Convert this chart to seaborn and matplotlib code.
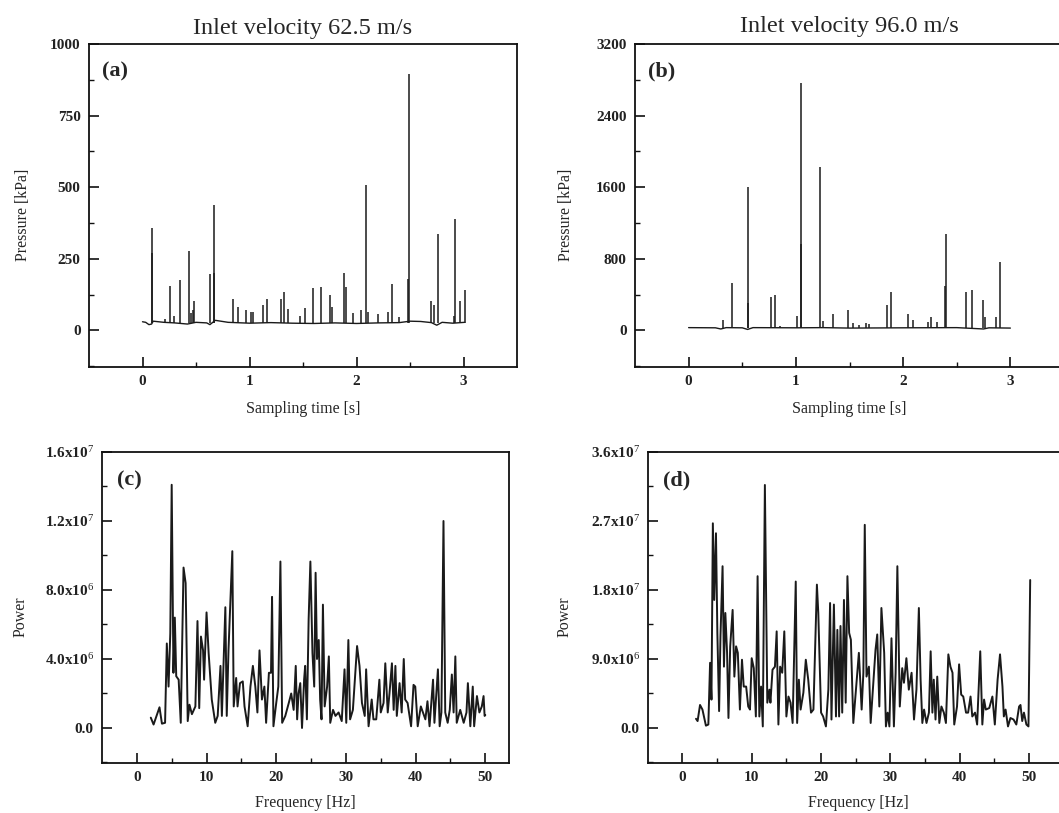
import numpy as np
import pandas as pd
import matplotlib
matplotlib.use("Agg")
import matplotlib.pyplot as plt
import seaborn as sns
from matplotlib.ticker import MultipleLocator, FixedLocator

# ---------------- data ----------------
titles = ["Inlet velocity 62.5 m/s", "Inlet velocity 96.0 m/s"]
panel_tags = ["(a)", "(b)", "(c)", "(d)"]

# (a) pressure trace, 62.5 m/s: baseline vertices and spikes
a_base_t = [0.0, 0.03, 0.06, 0.085, 0.10, 0.20, 0.30, 0.42, 0.50, 0.60, 0.63, 0.68, 0.80,
            1.00, 1.20, 1.40, 1.60, 1.80, 2.00, 2.20, 2.40, 2.50, 2.60, 2.70, 2.75, 2.80, 2.90, 3.01]
a_base_kpa = [30, 28, 20, 22, 32, 28, 26, 22, 28, 26, 20, 35, 28,
              25, 27, 25, 24, 26, 24, 26, 27, 32, 31, 27, 18, 28, 25, 28]
a_spike_t = [0.087, 0.092, 0.21, 0.26, 0.29, 0.35, 0.43, 0.455, 0.47, 0.485, 0.635, 0.665, 0.67,
             0.845, 0.89, 0.97, 1.01, 1.03, 1.125, 1.165, 1.29, 1.32, 1.36, 1.47, 1.52,
             1.59, 1.67, 1.75, 1.77, 1.885, 1.90, 1.97, 2.04, 2.09, 2.11, 2.20, 2.295,
             2.33, 2.40, 2.485, 2.49, 2.70, 2.725, 2.765, 2.91, 2.925, 2.97, 3.01]
a_spike_kpa = [359, 270, 40, 155, 50, 177, 278, 60, 70, 101, 196, 436, 200,
               108, 82, 72, 63, 63, 90, 108, 111, 133, 75, 51, 79,
               147, 152, 124, 80, 200, 150, 60, 70, 506, 65, 56, 63,
               163, 45, 180, 896, 103, 88, 338, 50, 389, 103, 140]

# (b) pressure trace, 96.0 m/s
b_base_t = [0.0, 0.25, 0.30, 0.35, 0.50, 0.55, 0.60, 1.00, 1.25, 1.50, 2.00, 2.50, 2.75, 2.80, 3.00]
b_base_kpa = [30, 28, 15, 30, 28, 10, 30, 28, 30, 25, 28, 30, 15, 28, 25]
b_spike_t = [0.32, 0.40, 0.55, 0.555, 0.77, 0.81, 0.85, 1.01, 1.045, 1.047, 1.225, 1.25,
             1.35, 1.49, 1.53, 1.59, 1.65, 1.68, 1.845, 1.885, 2.05, 2.09, 2.23, 2.26,
             2.32, 2.395, 2.40, 2.59, 2.645, 2.745, 2.76, 2.87, 2.90]
b_spike_kpa = [120, 530, 1600, 300, 374, 392, 50, 160, 960, 2766, 1820, 100,
               180, 232, 80, 60, 80, 70, 288, 426, 187, 110, 90, 150,
               90, 500, 1073, 426, 449, 336, 150, 150, 763]

# (c) power spectrum, 62.5 m/s (Hz, 1e6 units)
c_freq = [2.0, 2.4, 2.9, 3.25, 3.6, 4.05, 4.3, 4.55, 4.8, 5.0, 5.25, 5.45, 5.65, 6.0, 6.3,
          6.7, 7.0, 7.3, 7.55, 7.9, 8.4, 8.7, 8.95, 9.2, 9.5, 9.65, 10.0, 10.3, 10.75, 11.25,
          11.6, 12.0, 12.2, 12.7, 12.9, 13.15, 13.7, 13.9, 14.25, 14.45, 14.8, 15.2, 15.45,
          15.9, 16.3, 16.65, 17.0, 17.3, 17.6, 17.95, 18.3, 18.55, 18.95, 19.25, 19.4, 19.6,
          20.0, 20.3, 20.6, 20.85, 21.3, 21.8, 22.15, 22.5, 22.8, 23.0, 23.2, 23.45, 23.7,
          24.0, 24.15, 24.4, 24.65, 24.9, 25.2, 25.45, 25.65, 25.85, 26.1, 26.3, 26.5, 26.7,
          26.95, 27.3, 27.55, 27.75, 28.15, 28.5, 28.95, 29.4, 29.8, 30.05, 30.35, 30.6, 31.0,
          31.6, 31.95, 32.3, 32.7, 32.9, 33.25, 33.7, 33.95, 34.35, 34.8, 35.0, 35.4, 35.65,
          36.0, 36.25, 36.6, 36.85, 37.1, 37.3, 37.7, 38.0, 38.3, 38.5, 38.85, 39.35, 39.7,
          39.95, 40.3, 40.75, 41.05, 41.4, 41.7, 42.0, 42.5, 42.7, 43.2, 43.45, 43.7, 44.0,
          44.25, 44.6, 44.9, 45.2, 45.45, 45.7, 45.9, 46.4, 46.9, 47.3, 47.5, 47.85, 48.2,
          48.4, 48.8, 49.15, 49.5, 49.75, 49.9, 50.0]
c_power = [0.6, 0.2, 0.8, 1.2, 0.25, 0.3, 4.9, 2.4, 5.5, 14.1, 3.2, 6.4, 3.0, 2.8, 0.3,
           9.3, 8.4, 0.4, 1.35, 0.8, 1.25, 6.2, 1.15, 5.3, 4.5, 2.8, 6.7, 4.35, 1.65, 0.3,
           0.7, 3.6, 0.7, 7.0, 0.7, 4.5, 10.25, 1.25, 2.9, 1.25, 2.6, 2.7, 1.25,
           0.1, 2.4, 3.6, 2.4, 0.9, 4.5, 1.65, 2.4, 0.3, 3.2, 3.2, 7.6, 0.1,
           1.45, 2.4, 9.65, 0.3, 0.7, 1.45, 2.0, 1.05, 3.6, 0.5, 2.0, 2.6, 0.0,
           2.8, 3.6, 0.5, 6.3, 9.65, 4.35, 2.4, 9.0, 4.0, 5.1, 1.65, 0.5, 7.15,
           1.25, 2.4, 4.15, 0.3, 1.05, 0.7, 0.9, 0.4, 3.4, 0.3, 5.1, 0.5, 1.05,
           4.75, 3.6, 1.45, 0.7, 3.4, 0.1, 1.65, 0.5, 0.5, 2.8, 0.9, 1.45, 3.75,
           0.9, 2.0, 3.75, 1.05, 3.6, 0.7, 2.6, 0.9, 4.0, 1.65, 1.45, 0.1, 2.5,
           2.4, 0.1, 1.25, 0.9, 0.5, 1.55, 0.1, 2.8, 0.3, 3.4, 0.1, 0.9, 12.0,
           0.9, 0.3, 1.05, 3.1, 0.9, 4.15, 0.3, 1.05, 0.3, 0.9, 2.6, 0.1, 2.4,
           0.1, 1.85, 0.9, 1.25, 1.85, 0.7, 0.75]

# (d) power spectrum, 96.0 m/s (Hz, 1e6 units)
d_freq = [1.97, 2.2, 2.55, 2.9, 3.4, 3.75, 4.0, 4.2, 4.4, 4.6, 4.85, 5.05, 5.3, 5.5, 5.8,
          6.0, 6.2, 6.45, 6.65, 6.9, 7.25, 7.5, 7.75, 8.0, 8.3, 8.6, 8.85, 9.2, 9.5, 9.75,
          10.0, 10.3, 10.6, 10.85, 11.1, 11.35, 11.6, 11.9, 12.25, 12.55, 12.7, 13.0, 13.35,
          13.6, 13.85, 14.1, 14.4, 14.7, 15.0, 15.3, 15.6, 15.9, 16.35, 16.55, 16.8, 17.05,
          17.45, 17.8, 18.15, 18.55, 18.9, 19.4, 19.6, 20.0, 20.3, 20.7, 21.05, 21.3, 21.5,
          21.85, 22.15, 22.35, 22.6, 22.8, 23.05, 23.3, 23.55, 23.8, 24.05, 24.3, 24.65, 25.0,
          25.45, 25.85, 26.1, 26.3, 26.55, 26.9, 27.15, 27.5, 27.85, 28.1, 28.4, 28.7, 29.1,
          29.35, 29.6, 29.85, 30.15, 30.5, 30.75, 31.0, 31.35, 31.7, 31.95, 32.3, 32.65, 33.05,
          33.4, 33.75, 34.1, 34.35, 34.6, 34.85, 35.2, 35.55, 35.8, 36.05, 36.25, 36.5, 36.75,
          37.05, 37.35, 37.7, 38.0, 38.35, 38.65, 38.95, 39.2, 39.6, 39.9, 40.2, 40.5, 40.9,
          41.2, 41.55, 41.8, 42.2, 42.5, 42.95, 43.25, 43.5, 43.75, 44.25, 44.7, 45.05, 45.45,
          45.8, 46.15, 46.35, 46.6, 46.95, 47.3, 47.75, 48.15, 48.55, 48.75, 49.0, 49.25, 49.6,
          49.9, 50.15]
d_power = [1.2, 0.9, 3.0, 2.4, 0.3, 0.45, 8.5, 3.7, 26.7, 16.7, 25.4, 12.4, 2.2, 12.0, 21.1,
           8.0, 15.0, 9.8, 1.3, 10.65, 15.4, 6.7, 10.65, 9.8, 2.4, 8.9, 5.4, 5.4, 2.8, 2.4,
           9.1, 7.8, 1.5, 19.8, 1.5, 5.4, 0.2, 31.7, 3.3, 5.0, 3.3, 7.6, 8.0,
           12.6, 0.45, 8.0, 7.2, 12.6, 1.5, 4.1, 3.3, 0.65, 19.1, 0.65, 6.3, 2.4,
           4.6, 8.9, 6.3, 2.0, 2.4, 18.7, 15.0, 2.0, 1.5, 0.2, 5.0, 16.3, 1.1,
           16.1, 1.5, 12.8, 1.5, 13.3, 2.0, 16.7, 3.3, 19.8, 12.4, 11.5, 0.65, 4.6,
           9.8, 2.4, 7.2, 26.5, 6.7, 8.0, 0.65, 5.4, 10.2, 12.2, 2.8, 15.65, 9.8,
           0.2, 2.0, 0.2, 11.7, 0.2, 7.2, 21.1, 2.8, 7.8, 5.9, 9.1, 5.0, 7.2,
           1.1, 5.0, 15.65, 6.3, 0.65, 2.4, 0.65, 2.0, 10.0, 2.0, 6.3, 1.1, 6.7,
           0.65, 2.8, 2.0, 0.65, 9.6, 8.0, 7.2, 0.45, 2.8, 8.3, 4.35, 4.1, 2.0,
           2.0, 4.1, 1.5, 2.0, 0.45, 10.0, 0.45, 3.7, 2.4, 2.6, 4.1, 0.45, 6.3,
           9.6, 5.4, 1.5, 2.4, 0.2, 1.3, 1.1, 0.45, 2.8, 3.0, 0.9, 2.0, 0.45,
           0.2, 19.3]

c_yticks = [0, 4e6, 8e6, 1.2e7, 1.6e7]
c_yticklabels = ["0.0", "4.0x10$^{6}$", "8.0x10$^{6}$", "1.2x10$^{7}$", "1.6x10$^{7}$"]
d_yticks = [0, 9e6, 1.8e7, 2.7e7, 3.6e7]
d_yticklabels = ["0.0", "9.0x10$^{6}$", "1.8x10$^{7}$", "2.7x10$^{7}$", "3.6x10$^{7}$"]

# ---------------- style ----------------
sns.set_style("ticks")
plt.rcParams["font.family"] = ["Liberation Serif", "DejaVu Serif"]
plt.rcParams["mathtext.fontset"] = "custom"
plt.rcParams["mathtext.rm"] = "Liberation Serif"
plt.rcParams["mathtext.bf"] = "Liberation Serif:bold"
plt.rcParams["mathtext.default"] = "rm"

W, H = 1059, 813
fig = plt.figure(figsize=(W / 100, H / 100), dpi=100)
fig.patch.set_facecolor("white")

def px_axes(left, top, right, bottom):
    return fig.add_axes([left / W, 1 - bottom / H, (right - left) / W, (bottom - top) / H])

ax_a = px_axes(89, 44, 517, 367)
ax_b = px_axes(635, 44, 1064, 367)
ax_c = px_axes(102, 452, 509, 763)
ax_d = px_axes(648, 452, 1068, 763)

line_col = "#1a1a1a"

def draw_pressure(ax, base_t, base_p, sp_t, sp_p):
    df = pd.DataFrame({"t": base_t, "p": base_p})
    sns.lineplot(data=df, x="t", y="p", ax=ax, color=line_col, lw=1.0, estimator=None)
    ax.vlines(sp_t, 26, sp_p, color=line_col, lw=1.1)

draw_pressure(ax_a, a_base_t, a_base_kpa, a_spike_t, a_spike_kpa)
draw_pressure(ax_b, b_base_t, b_base_kpa, b_spike_t, b_spike_kpa)

dfc = pd.DataFrame({"f": c_freq, "P": np.array(c_power) * 1e6})
sns.lineplot(data=dfc, x="f", y="P", ax=ax_c, color=line_col, lw=1.4, estimator=None)
dfd = pd.DataFrame({"f": d_freq, "P": np.array(d_power) * 1e6})
sns.lineplot(data=dfd, x="f", y="P", ax=ax_d, color=line_col, lw=1.4, estimator=None)

# limits and ticks
ax_a.set_xlim(-0.5, 3.5); ax_a.set_ylim(-128, 1000)
ax_a.xaxis.set_major_locator(FixedLocator([0, 1, 2, 3]))
ax_a.xaxis.set_minor_locator(FixedLocator([0.5, 1.5, 2.5]))
ax_a.yaxis.set_major_locator(MultipleLocator(250)); ax_a.yaxis.set_minor_locator(MultipleLocator(125))

ax_b.set_xlim(-0.5, 3.5); ax_b.set_ylim(-410, 3200)
ax_b.xaxis.set_major_locator(FixedLocator([0, 1, 2, 3]))
ax_b.xaxis.set_minor_locator(FixedLocator([0.5, 1.5, 2.5]))
ax_b.yaxis.set_major_locator(MultipleLocator(800)); ax_b.yaxis.set_minor_locator(MultipleLocator(400))

ax_c.set_xlim(-5, 53.4); ax_c.set_ylim(-2.03e6, 1.6e7)
ax_c.xaxis.set_major_locator(FixedLocator([0, 10, 20, 30, 40, 50]))
ax_c.xaxis.set_minor_locator(FixedLocator([5, 15, 25, 35, 45]))
ax_c.set_yticks(c_yticks); ax_c.set_yticklabels(c_yticklabels)
ax_c.yaxis.set_minor_locator(MultipleLocator(2e6))

ax_d.set_xlim(-4.95, 55.6); ax_d.set_ylim(-4.57e6, 3.6e7)
ax_d.xaxis.set_major_locator(FixedLocator([0, 10, 20, 30, 40, 50]))
ax_d.xaxis.set_minor_locator(FixedLocator([5, 15, 25, 35, 45]))
ax_d.set_yticks(d_yticks); ax_d.set_yticklabels(d_yticklabels)
ax_d.yaxis.set_minor_locator(MultipleLocator(4.5e6))

for ax in (ax_a, ax_b, ax_c, ax_d):
    for s in ax.spines.values():
        s.set_visible(True)
        s.set_linewidth(1.3)
        s.set_color("#111111")
    ax.tick_params(which="major", direction="in", length=7, width=1.2, color="#111111",
                   labelsize=11, pad=6, top=False, right=False)
    ax.tick_params(which="minor", direction="in", length=3.5, width=1.0, color="#111111",
                   top=False, right=False)
    for lab in ax.get_xticklabels() + ax.get_yticklabels():
        lab.set_fontweight("bold")
        lab.set_color("#222222")
    ax.set_facecolor("white")

ax_a.set_xlabel("Sampling time [s]", fontsize=11.5, labelpad=9)
ax_b.set_xlabel("Sampling time [s]", fontsize=11.5, labelpad=9)
ax_a.set_ylabel("Pressure [kPa]", fontsize=11.5)
ax_b.set_ylabel("Pressure [kPa]", fontsize=11.5)
ax_c.set_xlabel("Frequency [Hz]", fontsize=11.5, labelpad=8)
ax_d.set_xlabel("Frequency [Hz]", fontsize=11.5, labelpad=8)
ax_c.set_ylabel("Power", fontsize=11.5)
ax_d.set_ylabel("Power", fontsize=11.5)
ax_a.yaxis.set_label_coords(-0.135, 0.47)
ax_b.yaxis.set_label_coords(-0.142, 0.47)
ax_c.yaxis.set_label_coords(-0.18, 0.47)
ax_d.yaxis.set_label_coords(-0.179, 0.47)

ax_a.set_title(titles[0], fontsize=17.5, pad=7)
ax_b.text(214 / 429, 1.022, titles[1], transform=ax_b.transAxes, ha="center", va="bottom", fontsize=17.5)

for ax, tag, pos in zip((ax_a, ax_b, ax_c, ax_d), panel_tags,
                        [(0.03, 0.915), (0.03, 0.915), (0.037, 0.91), (0.035, 0.91)]):
    ax.text(pos[0], pos[1], tag, transform=ax.transAxes, fontsize=16, fontweight="bold",
            ha="left", va="center")

fig.savefig("out.png", dpi=100, facecolor="white")
